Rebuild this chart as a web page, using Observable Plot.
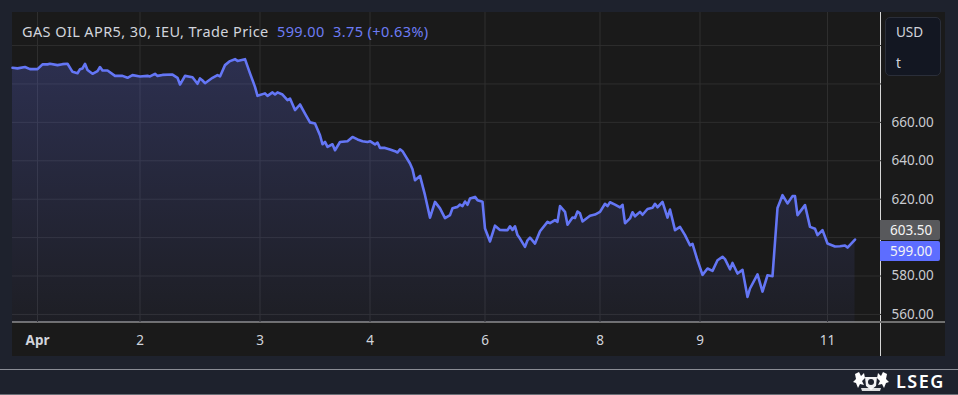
<!DOCTYPE html>
<html>
<head>
<meta charset="utf-8">
<script src="https://cdn.jsdelivr.net/npm/d3@7"></script>
<script src="https://cdn.jsdelivr.net/npm/@observablehq/plot@0.6"></script>
<style>
  html, body { margin: 0; padding: 0; background: #1e222d; width: 958px; height: 395px; overflow: hidden; font-family: "Noto Sans", "Open Sans", sans-serif; }
  #wrap { position: relative; width: 958px; height: 395px; }
  #panel { position: absolute; left: 12px; top: 12px; width: 933px; height: 344px; background: #1a1a1a; }
  #chart { position: absolute; left: 0; top: 0; }
  #title { position: absolute; left: 22px; top: 23px; font-size: 14.5px; letter-spacing: 0.4px; line-height: 16px; color: #d1d4dc; white-space: pre; }
  #title .q { color: #6d7cf5; }
  #sep { position: absolute; left: 880px; top: 12px; width: 1px; height: 344px; background: #d6d6d6; }
  #xline { position: absolute; left: 12px; top: 321px; width: 933px; height: 2px; background: #707070; }
  #usd { position: absolute; left: 885px; top: 17px; width: 56px; height: 59px; background: #131722; border: 1px solid #2a2e39; border-radius: 5px; box-sizing: border-box; color: #d1d4dc; font-size: 13.5px; }
  #usd div { position: absolute; left: 10px; }
  .tag { position: absolute; left: 880px; width: 60px; height: 20px; box-sizing: border-box; padding-left: 10px; font-size: 13.5px; line-height: 20px; color: #f4f4f4; border-radius: 0 2px 2px 0; }
  #foot { position: absolute; left: 0; top: 369px; width: 958px; height: 1px; background: #8a8d95; }
  #bottomline { position: absolute; left: 0; top: 394px; width: 958px; height: 1px; background: #6b6e76; }
  #lseg { position: absolute; left: 896px; top: 370px; font-size: 18px; font-weight: 600; color: #ffffff; letter-spacing: 1.5px; line-height: 22px; }
  #crest { position: absolute; left: 853px; top: 371px; }
</style>
</head>
<body>
<div id="wrap">
  <div id="panel"></div>
  <div id="sep"></div>
  <div id="xline"></div>
  <div id="chart"></div>
  <div id="title"></div>
  <div id="usd"><div style="top:5px">USD</div><div style="top:36px">t</div></div>
  <div id="foot"></div>
  <div id="bottomline"></div>
  <svg id="crest" width="36" height="22" viewBox="0 0 36 22">
    <g fill="#ffffff">
      <path d="M2 3 L6 1 L8 5 L11 2 L12 7 L9 10 L11 14 L7 13 L5 17 L3 12 L0 11 L3 8 Z"/>
      <path d="M34 3 L30 1 L28 5 L25 2 L24 7 L27 10 L25 14 L29 13 L31 17 L33 12 L36 11 L33 8 Z"/>
      <path d="M12 6 L24 6 L23 15 L18 19 L13 15 Z" fill-opacity="0.95"/>
      <circle cx="18" cy="11" r="3" fill="#1e222d"/>
      <path d="M8 17 L28 17 L27 20 L9 20 Z" fill-opacity="0.85"/>
    </g>
  </svg>
  <div id="lseg">LSEG</div>
</div>
<script>
// ---- data ----
const instrument = "GAS OIL APR5, 30, IEU, Trade Price";
const lastPrice = 599.00;
const change = 3.75;
const changePct = 0.63;
const refPrice = 603.50;

// 30-minute bar index (gaps removed, as on the chart) and trade price
const bars = [0,2,5,7,10,12,14,15,18,20,22,24,26,27,28,29,30,32,34,35,36,38,41,44,46,48,51,54,55,57,58,60,64,66,67,69,72,74,75,76,77,80,82,83,85,87,89,90,93,95,97,98,101,102,104,105,106,108,110,111,113,115,117,119,121,123,124,125,126,128,129,131,134,136,138,140,142,143,145,146,147,149,151,153,154,155,156,159,160,161,163,165,167,169,171,173,175,176,178,179,180,181,182,183,185,186,188,189,191,193,195,197,198,199,200,201,202,203,205,206,207,209,211,214,215,217,218,219,221,222,224,225,226,227,228,231,233,235,237,238,239,241,243,244,245,247,248,249,251,252,254,256,257,258,260,262,263,265,267,269,271,272,274,276,278,280,282,284,285,287,288,290,292,294,295,298,300,302,304,306,308,310,312,313,314,317,319,321,322,324,326,329,331,333,334,337];
const prices = [688.4,688.1,688.8,687.7,687.7,690.2,690.2,690.5,689.8,690.3,
  690.5,686.3,685.6,687.7,688.1,690.5,687.3,685.3,686.7,688.8,
  687.0,687.0,684.2,684.2,683.2,684.6,683.9,684.2,683.9,685.3,
  684.2,684.7,684.9,683.2,679.7,684.2,683.5,680.1,682.9,681.8,
  680.4,683.2,684.6,683.9,689.8,691.9,692.9,692.0,692.9,685.5,
  678.5,673.8,675.1,673.8,675.6,674.5,675.6,674.5,671.6,672.4,
  666.4,669.3,664.6,660.0,659.4,653.3,648.6,649.8,647.2,648.6,
  645.5,649.8,650.2,652.4,651.1,650.2,649.8,650.2,648.5,649.5,
  646.7,646.7,645.9,645.0,644.3,646.0,645.0,638.6,635.6,629.9,
  632.1,622.1,610.4,618.6,615.2,610.1,611.7,615.3,616.0,617.2,
  616.4,618.8,617.1,620.4,621.2,619.5,618.7,604.7,598.0,606.2,
  604.0,603.9,603.9,605.9,604.0,605.9,601.3,599.5,595.2,598.6,
  600.0,596.9,603.3,608.2,607.5,609.1,608.2,616.4,613.4,606.7,
  610.5,610.2,613.6,612.6,608.4,611.4,612.0,613.4,617.6,616.4,
  618.4,617.2,615.7,617.1,607.5,610.0,613.2,611.1,613.4,611.9,
  614.9,615.5,617.6,615.8,618.6,610.4,614.6,603.9,605.6,601.3,
  596.0,596.8,588.2,580.6,583.9,582.7,588.2,590.0,588.8,583.5,
  586.8,581.3,583.2,569.1,573.5,580.9,571.9,580.4,579.9,615.4,
  622.1,617.8,621.6,621.6,611.7,616.9,605.6,604.6,601.3,603.9,
  596.9,595.4,595.5,595.9,594.8,599.0];

// x-axis ticks: bar index where each day label sits
const tickBars = [10, 51, 99, 143, 189, 235, 275, 326];
const tickLabels = ["Apr", "2", "3", "4", "6", "8", "9", "11"];
// y grid and labelled ticks (600.00 is hidden behind the price tags on the reference)
const gridPrices = [560, 580, 600, 620, 640, 660, 680, 700];
const labelPrices = [560, 580, 620, 640, 660];
const xDomain = [0, 347.6];
const yDomain = [555.8, 717.2];

// ---- build ----
const data = bars.map((b, i) => ({bar: b, price: prices[i]}));
const labelOf = new Map(tickBars.map((b, i) => [b, tickLabels[i]]));

document.getElementById("title").innerHTML =
  `${instrument}  <span class="q">${lastPrice.toFixed(2)}  ${change.toFixed(2)} (+${changePct.toFixed(2)}%)</span>`;

const gradient = () => {
  const defs = d3.create("svg:defs");
  const g = defs.append("linearGradient").attr("id", "fillGrad")
    .attr("x1", 0).attr("y1", 0).attr("x2", 0).attr("y2", 1);
  g.append("stop").attr("offset", "0%").attr("stop-color", "#6370f0").attr("stop-opacity", 0.25);
  g.append("stop").attr("offset", "100%").attr("stop-color", "#6370f0").attr("stop-opacity", 0.05);
  return defs.node();
};

const chart = Plot.plot({
  width: 958,
  height: 395,
  marginLeft: 12,
  marginRight: 77,
  marginTop: 12,
  marginBottom: 73,
  style: {background: "transparent", overflow: "visible", fontFamily: "'Noto Sans', sans-serif"},
  x: {domain: xDomain, label: null},
  y: {domain: yDomain, label: null},
  marks: [
    gradient,
    Plot.gridY(gridPrices, {stroke: "#2e2e2e", strokeOpacity: 1}),
    Plot.gridX(tickBars, {stroke: "#2e2e2e", strokeOpacity: 1}),
    Plot.areaY(data, {x: "bar", y1: yDomain[0], y2: "price", fill: "url(#fillGrad)"}),
    Plot.lineY(data, {x: "bar", y: "price", stroke: "#6476f5", strokeWidth: 2.6, strokeLinejoin: "round"}),
    Plot.axisY(labelPrices, {anchor: "right", label: null, tickSize: 0, tickPadding: 10, fontSize: 13.5, color: "#c9cbd1", tickFormat: d => d.toFixed(2)}),
    Plot.axisX([tickBars[0]], {anchor: "bottom", label: null, tickSize: 0, tickPadding: 13, fontSize: 13.5, fontWeight: "bold", color: "#d1d4dc", tickFormat: d => labelOf.get(d)}),
    Plot.axisX(tickBars.slice(1), {anchor: "bottom", label: null, tickSize: 0, tickPadding: 13, fontSize: 13.5, color: "#d1d4dc", tickFormat: d => labelOf.get(d)})
  ]
});
document.getElementById("chart").appendChild(chart);

// price tags on the right axis, positioned through Plot's y scale
const ys = chart.scale("y");
const wrap = document.getElementById("wrap");
const tagH = 20;
const greyTop = ys.apply(refPrice) - tagH / 2;
const grey = document.createElement("div");
grey.className = "tag";
grey.style.top = greyTop + "px";
grey.style.background = "#58595c";
grey.textContent = refPrice.toFixed(2);
wrap.appendChild(grey);
const blueTop = Math.max(ys.apply(lastPrice) - tagH / 2, greyTop + tagH + 1);
const blue = document.createElement("div");
blue.className = "tag";
blue.style.top = blueTop + "px";
blue.style.background = "#5d6dff";
blue.textContent = lastPrice.toFixed(2);
wrap.appendChild(blue);
</script>
</body>
</html>
